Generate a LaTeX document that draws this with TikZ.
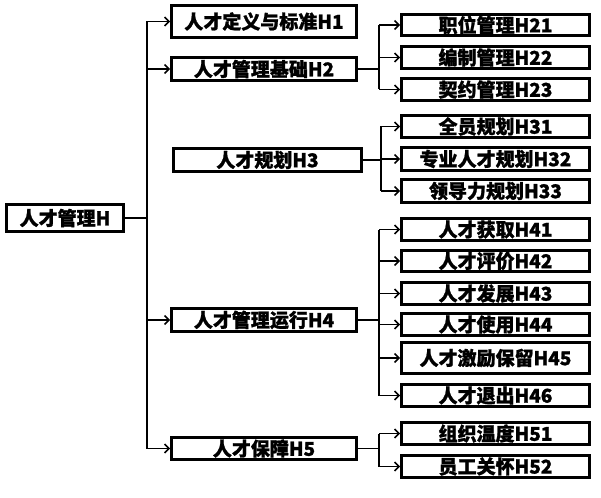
\documentclass[tikz,border=0pt]{standalone}
\usepackage{fontspec}
\setmainfont{Noto Sans CJK SC}[BoldFeatures={FakeBold=1.2}]
\usetikzlibrary{arrows.meta,shadows}
\begin{document}
\begin{tikzpicture}[x=1pt,y=-1pt,
  box/.style={draw=black,line width=2.6pt,fill=white,inner sep=0pt,
    font=\fontsize{19}{20}\selectfont\bfseries,
    drop shadow={shadow xshift=1.5pt,shadow yshift=-1.5pt,opacity=0.35,fill=gray}},
  lw/.style={minimum width=185pt},
  rw/.style={minimum width=188pt},
  con/.style={line width=1.8pt,black},
  arr/.style={con,-{Straight Barb[length=4.5pt,width=9pt,line width=1.6pt]}}]
\useasboundingbox (0,0) rectangle (601,497);
% root
\node[box,minimum width=117pt,minimum height=27pt] (root) at (65,218) {人才管理H};
% level 1
\node[box,lw,minimum height=32pt] (h1) at (264,21.5) {人才定义与标准H1};
\node[box,lw,minimum height=23pt] (h2) at (264,69) {人才管理基础H2};
\node[box,rw,minimum height=23pt] (h3) at (267.5,160) {人才规划H3};
\node[box,lw,minimum height=23pt] (h4) at (264,320) {人才管理运行H4};
\node[box,lw,minimum height=22pt] (h5) at (264,448.5) {人才保障H5};
% level 2
\node[box,rw,minimum height=21pt] (h21) at (495.5,25) {职位管理H21};
\node[box,rw,minimum height=22pt] (h22) at (495.5,57.5) {编制管理H22};
\node[box,rw,minimum height=22pt] (h23) at (495.5,89.5) {契约管理H23};
\node[box,rw,minimum height=22pt] (h31) at (495.5,126.5) {全员规划H31};
\node[box,rw,minimum height=23pt] (h32) at (495.5,159) {专业人才规划H32};
\node[box,rw,minimum height=23pt] (h33) at (495.5,191) {领导力规划H33};
\node[box,rw,minimum height=22pt] (h41) at (495.5,229.5) {人才获取H41};
\node[box,rw,minimum height=21pt] (h42) at (495.5,261) {人才评价H42};
\node[box,rw,minimum height=22pt] (h43) at (495.5,293.5) {人才发展H43};
\node[box,rw,minimum height=22pt] (h44) at (495.5,324.5) {人才使用H44};
\node[box,rw,minimum height=31pt] (h45) at (495.5,358) {人才激励保留H45};
\node[box,rw,minimum height=22pt] (h46) at (495.5,395.5) {人才退出H46};
\node[box,rw,minimum height=22pt] (h51) at (495.5,433.5) {组织温度H51};
\node[box,rw,minimum height=22pt] (h52) at (495.5,466.5) {员工关怀H52};
% connectors root
\coordinate (j0) at (147,218);
\draw[con] (root.east) -- (j0);
\draw[con] (j0 |- h1.west) -- (j0 |- h5.west);
\foreach \n in {h1,h2,h4,h5}{\draw[arr] (j0 |- \n.west) -- (\n.west);}
% H2 group
\coordinate (j2) at (379,69);
\draw[con] (h2.east) -- (j2);
\draw[con] (j2 |- h21.west) -- (j2 |- h23.west);
\foreach \n in {h21,h22,h23}{\draw[arr] (j2 |- \n.west) -- (\n.west);}
% H3 group
\coordinate (j3) at (381,160);
\draw[con] (h3.east) -- (j3);
\draw[con] (j3 |- h31.west) -- (j3 |- h33.west);
\foreach \n in {h31,h32,h33}{\draw[arr] (j3 |- \n.west) -- (\n.west);}
% H4 group
\coordinate (j4) at (379,320);
\draw[con] (h4.east) -- (j4);
\draw[con] (j4 |- h41.west) -- (j4 |- h46.west);
\foreach \n in {h41,h42,h43,h44,h45,h46}{\draw[arr] (j4 |- \n.west) -- (\n.west);}
% H5 group
\coordinate (j5) at (379,448.5);
\draw[con] (h5.east) -- (j5);
\draw[con] (j5 |- h51.west) -- (j5 |- h52.west);
\foreach \n in {h51,h52}{\draw[arr] (j5 |- \n.west) -- (\n.west);}
\end{tikzpicture}
\end{document}
